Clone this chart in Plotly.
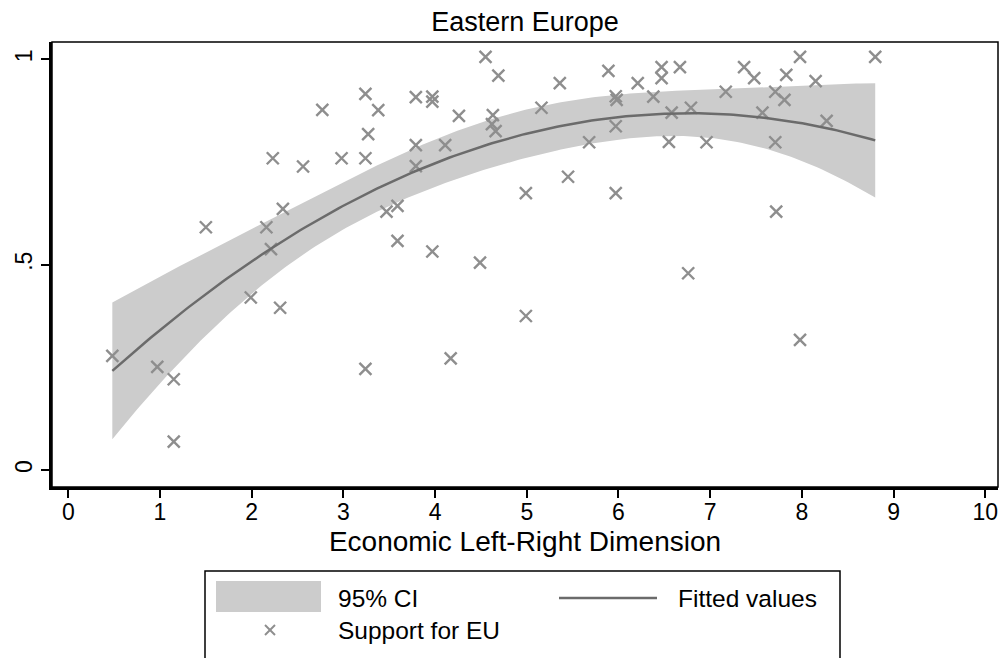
import numpy as np
import plotly.graph_objects as go

# Parties in Eastern Europe: economic left-right position and support for the EU
econ_lr = [0.48, 0.97, 1.15, 1.15, 1.50, 1.99, 2.16, 2.23, 2.21, 2.34,
           2.31, 2.56, 2.77, 2.98, 3.24, 3.24, 3.27, 3.38, 3.24, 3.47,
           3.59, 3.59, 3.79, 3.79, 3.79, 3.97, 3.97, 3.97, 4.11, 4.17,
           4.26, 4.49, 4.55, 4.69, 4.63, 4.62, 4.66, 4.99, 4.99, 5.16,
           5.36, 5.45, 5.68, 5.89, 5.97, 5.98, 5.97, 5.97, 6.21, 6.38,
           6.47, 6.47, 6.58, 6.55, 6.67, 6.79, 6.76, 6.96, 7.17, 7.37,
           7.48, 7.57, 7.71, 7.81, 7.71, 7.72, 7.83, 7.98, 7.98, 8.15,
           8.27, 8.80]
eu_support = [0.278, 0.251, 0.221, 0.069, 0.591, 0.420, 0.591, 0.759, 0.538, 0.636,
              0.395, 0.739, 0.877, 0.759, 0.916, 0.759, 0.818, 0.876, 0.246, 0.629,
              0.643, 0.558, 0.908, 0.791, 0.740, 0.909, 0.897, 0.532, 0.791, 0.272,
              0.862, 0.505, 1.006, 0.960, 0.864, 0.842, 0.825, 0.674, 0.375, 0.882,
              0.942, 0.714, 0.798, 0.972, 0.910, 0.901, 0.837, 0.674, 0.942, 0.909,
              0.981, 0.954, 0.870, 0.799, 0.981, 0.882, 0.479, 0.798, 0.921, 0.981,
              0.954, 0.870, 0.921, 0.901, 0.798, 0.629, 0.962, 1.006, 0.317, 0.947,
              0.850, 1.006]

x_ticks = list(range(0, 11))
y_ticks = [0, 0.5, 1]
y_tick_text = ["0", ".5", "1"]

MARKER_GREY = "#8e8e8e"
LINE_GREY = "#6b6b6b"
CI_GREY = "#cccccc"
FONT = "Liberation Sans, Arial, Helvetica, sans-serif"

# Quadratic fit with 95% confidence band for the mean prediction
x = np.asarray(econ_lr, dtype=float)
y = np.asarray(eu_support, dtype=float)
X = np.column_stack([np.ones_like(x), x, x ** 2])
beta, *_ = np.linalg.lstsq(X, y, rcond=None)
resid = y - X @ beta
dof = len(x) - X.shape[1]
s2 = resid @ resid / dof
xtx_inv = np.linalg.inv(X.T @ X)
T975 = 1.995  # Student t, 97.5% quantile, ~69 degrees of freedom

grid = np.linspace(x.min(), x.max(), 200)
G = np.column_stack([np.ones_like(grid), grid, grid ** 2])
fit = G @ beta
se = np.sqrt(s2 * np.einsum("ij,jk,ik->i", G, xtx_inv, G))
lower = fit - T975 * se
upper = fit + T975 * se

fig = go.Figure()
fig.add_trace(go.Scatter(
    x=np.concatenate([grid, grid[::-1]]),
    y=np.concatenate([upper, lower[::-1]]),
    fill="toself", fillcolor=CI_GREY, line=dict(width=0),
    mode="lines", name="95% CI", hoverinfo="skip", showlegend=False,
))
fig.add_trace(go.Scatter(
    x=x, y=y, mode="markers", name="Support for EU",
    marker=dict(symbol="x-thin", size=12, color=MARKER_GREY,
                line=dict(width=2.4, color=MARKER_GREY)),
    showlegend=False,
))
fig.add_trace(go.Scatter(
    x=grid, y=fit, mode="lines", name="Fitted values",
    line=dict(color=LINE_GREY, width=2.5), showlegend=False,
))

# Plot area in pixels
W, H = 1000, 658
L, R, T, B = 52, 998, 42, 487


def px(xp):
    return (xp - L) / (R - L)


def py(yp):
    return (B - yp) / (B - T)


shapes = [
    # frame around the plot region
    dict(type="rect", xref="paper", yref="paper", x0=0, x1=1, y0=0, y1=1,
         line=dict(color="black", width=1.5), layer="above"),
    # legend box
    dict(type="rect", xref="paper", yref="paper", x0=px(205), x1=px(840),
         y0=py(700), y1=py(571), line=dict(color="black", width=1.5)),
    # legend key: confidence band
    dict(type="rect", xref="paper", yref="paper", x0=px(216), x1=px(321),
         y0=py(612), y1=py(581), line=dict(width=0), fillcolor=CI_GREY),
    # legend key: fitted line
    dict(type="line", xref="paper", yref="paper", x0=px(559), x1=px(657),
         y0=py(598), y1=py(598), line=dict(color=LINE_GREY, width=2.5)),
    # legend key: marker
    dict(type="line", xref="paper", yref="paper", x0=px(265), x1=px(275),
         y0=py(625), y1=py(635), line=dict(color=MARKER_GREY, width=2)),
    dict(type="line", xref="paper", yref="paper", x0=px(265), x1=px(275),
         y0=py(635), y1=py(625), line=dict(color=MARKER_GREY, width=2)),
]

legend_font = dict(family=FONT, size=24.5, color="black")
annotations = [
    dict(text="95% CI", xref="paper", yref="paper", x=px(336), y=py(598),
         xanchor="left", yanchor="middle", showarrow=False, font=legend_font),
    dict(text="Fitted values", xref="paper", yref="paper", x=px(676), y=py(598),
         xanchor="left", yanchor="middle", showarrow=False, font=legend_font),
    dict(text="Support for EU", xref="paper", yref="paper", x=px(336), y=py(630),
         xanchor="left", yanchor="middle", showarrow=False, font=legend_font),
]

fig.update_layout(
    width=W, height=H,
    margin=dict(l=L, r=W - R, t=T, b=H - B, autoexpand=False),
    paper_bgcolor="white", plot_bgcolor="white",
    font=dict(family=FONT, color="black"),
    title=dict(text="Eastern Europe", x=0.525, xanchor="center",
               y=1 - 22 / H, yanchor="middle", font=dict(size=27)),
    showlegend=False,
    shapes=shapes,
    annotations=annotations,
)
fig.update_xaxes(
    range=[-0.178, 10.139], tickvals=x_ticks, ticks="outside", ticklen=8,
    tickwidth=2, tickcolor="black", showline=True, linewidth=2.5,
    linecolor="black", showgrid=False, zeroline=False,
    tickfont=dict(size=23), ticklabelstandoff=-5,
    title=dict(text="Economic Left-Right Dimension", font=dict(size=28), standoff=8),
)
fig.update_yaxes(
    range=[-0.0414, 1.0421], tickvals=y_ticks, ticktext=y_tick_text,
    ticks="outside", ticklen=8, tickwidth=2, tickcolor="black",
    showline=True, linewidth=2.5, linecolor="black", showgrid=False,
    zeroline=False, tickangle=-90, tickfont=dict(size=23),
)

fig.write_html("out.html")
